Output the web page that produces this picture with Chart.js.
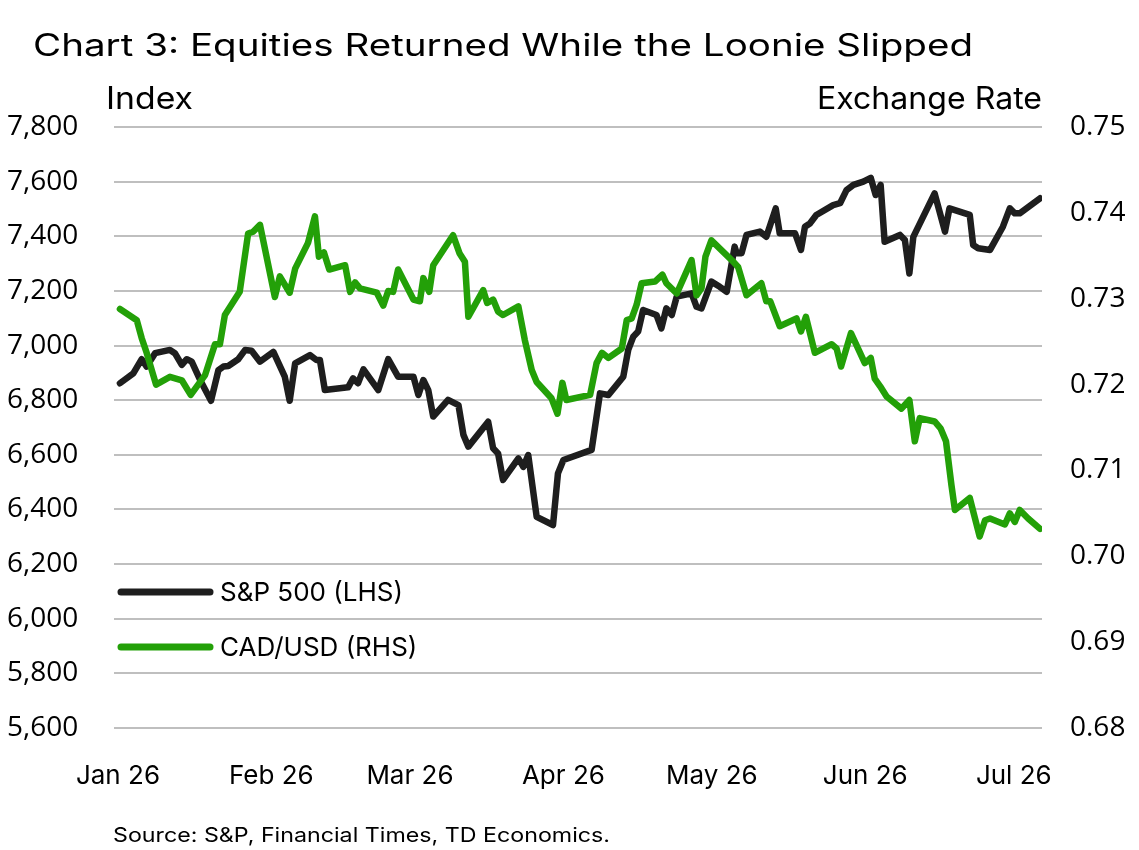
<!DOCTYPE html>
<html>
<head>
<meta charset="utf-8">
<title>Chart 3: Equities Returned While the Loonie Slipped</title>
<script src="https://cdn.jsdelivr.net/npm/chart.js@4.4.1/dist/chart.umd.min.js"></script>
<style>
    html, body { margin: 0; padding: 0; background: #fff; }
    #wrap { width: 1139px; height: 850px; }
</style>
</head>
<body>
<div id="wrap"><canvas id="equityChart" width="1139" height="850"></canvas></div>
<script>
// x values are days since Jan 1 (2026)
const monthTicks = [0, 31, 59, 90, 120, 151, 181];
const monthLabels = ['Jan 26', 'Feb 26', 'Mar 26', 'Apr 26', 'May 26', 'Jun 26', 'Jul 26'];

const spxDays = [0.4, 3.1, 4.8, 5.8, 7.5, 10.5, 11.5, 12.9, 13.9, 14.9, 16.6, 18.8, 20.3, 21.3, 22.3, 24.3, 25.7, 27, 28.7, 31.4,
    33.1, 33.7, 34.7, 35.8, 38.8, 40.1, 40.8, 41.8, 46.5, 47.5, 48.5, 49.6, 52.6, 54.6, 56.6, 59.7, 60.7, 61.7, 62.7, 63.7,
    66.7, 68.8, 69.8, 70.8, 74.8, 75.8, 76.8, 77.8, 80.9, 81.9, 82.9, 84.6, 87.9, 88.9, 90, 95.7, 97.4, 99.1, 102.1, 103.1,
    104.1, 105.1, 106.1, 108.8, 109.8, 110.8, 111.9, 112.9, 115.9, 116.9, 117.9, 119.9, 121.6, 123, 124.6, 125, 126, 127, 129.7, 131,
    132.9, 133.7, 136.8, 138, 138.8, 139.8, 141.1, 144.5, 145.9, 147.2, 148.6, 150.6, 152.1, 153.1, 154.1, 154.9, 158, 159, 159.9, 160.7,
    165, 167.1, 168, 172.1, 172.8, 173.8, 176.2, 178.8, 180.2, 181.2, 182.2, 186.3];
const spxValues = [6862, 6898, 6950, 6923, 6972, 6984, 6972, 6929, 6950, 6941, 6874, 6798, 6910, 6923, 6925, 6950, 6984, 6981, 6941, 6977,
    6910, 6886, 6798, 6935, 6965, 6947, 6947, 6837, 6847, 6880, 6862, 6913, 6837, 6950, 6886, 6886, 6819, 6874, 6837, 6740,
    6801, 6782, 6673, 6630, 6721, 6624, 6605, 6508, 6587, 6556, 6599, 6373, 6343, 6532, 6581, 6618, 6825, 6819, 6886, 6984,
    7032, 7051, 7130, 7112, 7063, 7136, 7112, 7179, 7191, 7142, 7136, 7234, 7215, 7197, 7362, 7338, 7338, 7405, 7417, 7398,
    7502, 7411, 7411, 7350, 7435, 7447, 7478, 7514, 7521, 7569, 7588, 7600, 7614, 7551, 7588, 7380, 7405, 7386, 7264, 7398,
    7557, 7417, 7502, 7478, 7368, 7356, 7350, 7435, 7502, 7484, 7484, 7539];

const cadDays = [0.4, 3.8, 4.8, 5.8, 7.7, 10.5, 12.9, 14.7, 17.6, 19.6, 20.6, 21.6, 24.6, 26.3, 27.3, 28.7, 31.7, 32.7, 34.7, 35.8,
    38.4, 39.8, 40.6, 41.6, 42.7, 45.9, 46.9, 47.9, 48.9, 52.3, 53.6, 54.6, 55.6, 56.6, 59.7, 61, 61.7, 62.9, 63.7, 67.7,
    69, 70.1, 70.8, 73.8, 74.6, 75.8, 76.8, 77.8, 80.9, 82.2, 83.6, 84.6, 87.6, 88.8, 89.8, 90.6, 95.4, 96.7, 97.8, 99.1,
    101.8, 102.8, 103.8, 104.8, 105.8, 108.5, 110, 110.8, 112.9, 115.9, 116.9, 117.9, 118.7, 119.9, 124, 125.3, 127, 130, 131, 131.8,
    133.7, 137.1, 138, 139, 140.8, 144.2, 145.2, 146.1, 148.1, 150.9, 152.1, 152.9, 154, 155.3, 158.3, 159.9, 161, 162, 165, 166.2,
    167.3, 168.4, 169.1, 172.1, 174.1, 175.2, 176.2, 179.2, 180.2, 181.2, 182.2, 183.9, 186.3];
const cadValues = [0.7288, 0.7275, 0.7254, 0.7237, 0.7200, 0.7209, 0.7205, 0.7188, 0.7211, 0.7247, 0.7247, 0.7281, 0.7308, 0.7376, 0.7378, 0.7386, 0.7302, 0.7326, 0.7307, 0.7335,
    0.7365, 0.7396, 0.7349, 0.7354, 0.7334, 0.7339, 0.7308, 0.7319, 0.7312, 0.7307, 0.7292, 0.7309, 0.7308, 0.7334, 0.7299, 0.7297, 0.7324, 0.7308, 0.7339, 0.7374,
    0.7353, 0.7343, 0.7279, 0.7310, 0.7295, 0.7299, 0.7285, 0.7281, 0.7291, 0.7252, 0.7217, 0.7203, 0.7184, 0.7166, 0.7202, 0.7182, 0.7188, 0.7225, 0.7237, 0.7231,
    0.7242, 0.7275, 0.7277, 0.7293, 0.7318, 0.7320, 0.7328, 0.7318, 0.7306, 0.7345, 0.7304, 0.7312, 0.7349, 0.7368, 0.7345, 0.7337, 0.7304, 0.7318, 0.7297, 0.7297,
    0.7268, 0.7277, 0.7262, 0.7279, 0.7237, 0.7247, 0.7242, 0.7221, 0.7260, 0.7225, 0.7231, 0.7207, 0.7198, 0.7186, 0.7172, 0.7182, 0.7134, 0.7161, 0.7157, 0.7149,
    0.7134, 0.7083, 0.7054, 0.7068, 0.7023, 0.7042, 0.7044, 0.7037, 0.7050, 0.7040, 0.7054, 0.7044, 0.7032];

const BLACK = '#1e1e1e';
const GREEN = '#23a008';
const FONT = 'Inter, "Noto Sans", sans-serif';
const TICK_FONT = '"Open Sans", Inter, sans-serif';

const toPoints = (xs, ys) => xs.map((x, i) => ({ x: x, y: ys[i] }));

// draws text stretched horizontally so it spans the given width (the original font is wider)
function wideText(c, text, x, y, width, align) {
    const w = c.measureText(text).width;
    const sx = width / w;
    c.save();
    c.textAlign = 'left';
    c.translate(align === 'right' ? x - width : x, y);
    c.scale(sx, 1);
    c.fillText(text, 0, 0);
    c.restore();
}

// titles, axis captions, legend and source note
const textPlugin = {
    id: 'textPlugin',
    afterDraw(chart) {
        const c = chart.ctx;
        const area = chart.chartArea;
        c.save();
        c.fillStyle = '#000';
        c.textBaseline = 'alphabetic';

        c.font = '31px ' + FONT;
        wideText(c, 'Chart 3: Equities Returned While the Loonie Slipped', 33, 56, 940);

        c.font = '31px ' + FONT;
        wideText(c, 'Index', 106, 109, 87);
        wideText(c, 'Exchange Rate', area.right, 109, 225, 'right');

        // legend
        const items = [
            { label: 'S&P 500 (LHS)', color: BLACK, y: 592 },
            { label: 'CAD/USD (RHS)', color: GREEN, y: 647 }
        ];
        c.textAlign = 'left';
        c.textBaseline = 'middle';
        c.font = '26px ' + FONT;
        items.forEach(it => {
            c.strokeStyle = it.color;
            c.lineWidth = 7;
            c.lineCap = 'round';
            c.beginPath();
            c.moveTo(121, it.y);
            c.lineTo(210, it.y);
            c.stroke();
            c.fillStyle = '#000';
            c.fillText(it.label, 220, it.y + 1);
        });

        c.textBaseline = 'alphabetic';
        c.font = '20px ' + FONT;
        wideText(c, 'Source: S&P, Financial Times, TD Economics.', 113, 842, 497);
        c.restore();
    }
};

const chart = new Chart(document.getElementById('equityChart'), {
    type: 'line',
    data: {
        datasets: [{
            label: 'S&P 500 (LHS)',
            data: toPoints(spxDays, spxValues),
            borderColor: BLACK,
            borderWidth: 6.5,
            yAxisID: 'y',
            order: 1
        }, {
            label: 'CAD/USD (RHS)',
            data: toPoints(cadDays, cadValues),
            borderColor: GREEN,
            borderWidth: 6.5,
            yAxisID: 'y1',
            order: 0
        }]
    },
    options: {
        responsive: false,
        animation: false,
        devicePixelRatio: 1,
        layout: { padding: { left: 7, right: 0, top: 127, bottom: 52 } },
        elements: {
            point: { radius: 0 },
            line: { tension: 0, borderJoinStyle: 'round', borderCapStyle: 'round' }
        },
        scales: {
            x: {
                type: 'linear',
                min: -0.8,
                max: 186.7,
                afterBuildTicks: s => { s.ticks = monthTicks.map(v => ({ value: v })); },
                afterFit: s => { s.height = 70; },
                grid: { display: false },
                border: { display: false },
                ticks: {
                    autoSkip: false,
                    maxRotation: 0,
                    padding: 25,
                    color: '#000',
                    font: { family: FONT, size: 26 },
                    callback: (v, i) => monthLabels[i]
                }
            },
            y: {
                position: 'left',
                min: 5600,
                max: 7800,
                afterFit: s => { s.width = 107; },
                grid: { color: '#bfbfbf', lineWidth: 2, drawTicks: false },
                border: { display: false },
                ticks: {
                    stepSize: 200,
                    crossAlign: 'far',
                    color: '#000',
                    font: { family: TICK_FONT, size: 28 },
                    callback: v => v.toLocaleString('en-US')
                }
            },
            y1: {
                position: 'right',
                min: 0.68,
                max: 0.75,
                afterFit: s => { s.width = 97; },
                grid: { display: false, drawTicks: false },
                border: { display: false },
                ticks: {
                    stepSize: 0.01,
                    padding: 28,
                    color: '#000',
                    font: { family: TICK_FONT, size: 28 },
                    callback: v => v.toFixed(2)
                }
            }
        },
        plugins: {
            legend: { display: false },
            tooltip: { enabled: false }
        }
    },
    plugins: [textPlugin]
});
</script>
</body>
</html>
